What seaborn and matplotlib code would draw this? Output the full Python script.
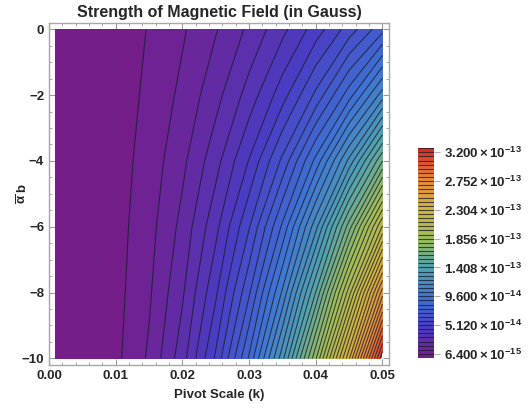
import numpy as np
import matplotlib
matplotlib.use("Agg")
import matplotlib.pyplot as plt
import seaborn as sns

# pivot scale k (columns) and alpha_b (rows)
k_vals = [0.001, 0.005, 0.010, 0.015, 0.020, 0.025, 0.030, 0.035, 0.040, 0.045, 0.050]
alpha_vals = [0, -2, -4, -6, -8, -10]

# field strength in units of 1e-15 Gauss, one list per alpha_b row
b_alpha0 = [0.030, 0.748, 2.99, 6.73, 11.96, 18.69, 26.91, 36.63, 47.84, 60.55, 74.75]
b_alpha2 = [0.022, 0.710, 3.20, 7.71, 14.39, 23.35, 34.68, 48.45, 65.5, 86.7, 112.0]
b_alpha4 = [0.017, 0.707, 3.53, 9.05, 17.64, 29.60, 45.18, 65.5, 91.6, 123.5, 160.0]
b_alpha6 = [0.014, 0.708, 3.87, 10.45, 21.15, 36.52, 57.09, 84.5, 119.5, 163.5, 212.0]
b_alpha8 = [0.012, 0.720, 4.22, 11.85, 24.68, 43.60, 69.44, 103.5, 147.5, 202.0, 266.0]
b_alpha10 = [0.012, 0.784, 4.78, 13.79, 29.21, 52.29, 84.16, 125.8, 178.3, 242.4, 319.3]

level_step = 6.4e-15
n_levels = 51
cbar_ticks = [6.4e-15, 5.12e-14, 9.6e-14, 1.408e-13, 1.856e-13, 2.304e-13, 2.752e-13, 3.2e-13]

# rainbow scheme, evenly spaced
rainbow = ["#781c87", "#4a3cc4", "#3f73d4", "#50a2b0", "#9ebe58",
           "#d0b540", "#e6893a", "#d92a20"]


def sci_label(v):
    e = int(np.floor(np.log10(v)))
    m = v / 10**e
    return r"$\mathbf{%.3f\times10^{%d}}$" % (m, e)


def main():
    sns.set_style("ticks")
    plt.rcParams["font.family"] = ["Liberation Sans", "DejaVu Sans"]
    plt.rcParams["font.weight"] = "bold"
    plt.rcParams["mathtext.fontset"] = "custom"
    plt.rcParams["mathtext.rm"] = "Liberation Sans"
    plt.rcParams["mathtext.bf"] = "Liberation Sans:bold"
    plt.rcParams["mathtext.it"] = "Liberation Sans:bold:italic"

    field = np.array([b_alpha0, b_alpha2, b_alpha4, b_alpha6, b_alpha8, b_alpha10]) * 1e-15
    K, A = np.meshgrid(k_vals, alpha_vals)
    levels = np.arange(n_levels + 1) * level_step

    cmap = sns.blend_palette(rainbow, as_cmap=True)

    fig = plt.figure(figsize=(5.28, 4.09), dpi=100)
    ax = fig.add_axes([0.0928, 0.1076, 0.644, 0.837])
    cf = ax.contourf(K, A, field, levels=levels, cmap=cmap)
    cs = ax.contour(K, A, field, levels=levels[1:], colors="#1a1a2a",
                    linewidths=0.8, alpha=0.75)

    ax.set_xlim(0.00002, 0.05098)
    ax.set_ylim(-10.2, 0.2)
    ax.set_xticks([0.0, 0.01, 0.02, 0.03, 0.04, 0.05])
    ax.set_xticklabels(["0.00", "0.01", "0.02", "0.03", "0.04", "0.05"])
    ax.set_yticks([0, -2, -4, -6, -8, -10])
    ax.set_xticks(np.arange(0, 0.0501, 0.002), minor=True)
    ax.set_yticks(np.arange(-10, 0.01, 0.5), minor=True)
    ax.tick_params(which="both", direction="in", top=True, right=True,
                   color="#9a9a9a", labelsize=9.5)
    ax.tick_params(which="major", length=4, width=0.8)
    ax.tick_params(which="minor", length=2.2, width=0.6)
    for lab in ax.get_xticklabels() + ax.get_yticklabels():
        lab.set_fontweight("bold")
    for sp in ax.spines.values():
        sp.set_color("#a8a8a8")
        sp.set_linewidth(1.0)

    ax.set_title("Strength of Magnetic Field (in Gauss)", fontsize=11.5,
                 fontweight="bold", pad=4)
    ax.set_xlabel("Pivot Scale (k)", fontsize=9.5, fontweight="bold", labelpad=5)
    ax.set_ylabel(r"$\mathbf{\overline{\alpha}}$ b", fontsize=9.5, fontweight="bold")
    ax.yaxis.set_label_coords(-0.055, 0.5)

    cax = fig.add_axes([0.7917, 0.1247, 0.0303, 0.513])
    cb = fig.colorbar(cf, cax=cax, ticks=cbar_ticks)
    cb.add_lines(cs)
    cb.outline.set_visible(False)
    cb.ax.set_yticklabels([sci_label(v) for v in cbar_ticks])
    cb.ax.tick_params(length=4, width=0.8, color="#b0b0b0", labelsize=9.5, pad=3)

    plt.savefig("out.png", dpi=100)


if __name__ == "__main__":
    main()
